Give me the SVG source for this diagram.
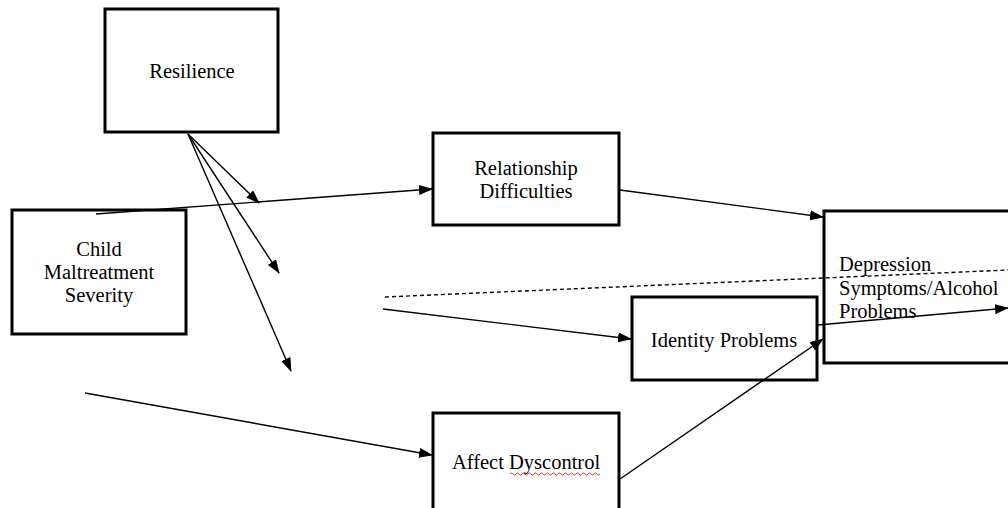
<svg xmlns="http://www.w3.org/2000/svg" width="1008" height="508" viewBox="0 0 1008 508">
<defs>
<marker id="ah" markerWidth="14" markerHeight="10" refX="13" refY="5" orient="auto" markerUnits="userSpaceOnUse">
<path d="M0,0 L14,5 L0,10 Z" fill="#000"/>
</marker>
</defs>
<style>
.box{fill:#fff;stroke:#000;stroke-width:3}
.t{font-family:"Liberation Serif","Times New Roman",serif;font-size:20.5px;fill:#000}
.c{stroke:#000;stroke-width:1.4;fill:none}
.a{marker-end:url(#ah)}
.d{stroke-dasharray:4,3}
</style>
<rect width="1008" height="508" fill="#fff"/>
<g id="resilience">
<rect class="box" x="105" y="9" width="173" height="123"/>
<text class="t" x="192" y="78" text-anchor="middle">Resilience</text>
</g>
<g id="child">
<rect class="box" x="12" y="210" width="174" height="124"/>
<text class="t" x="99" y="256" text-anchor="middle">Child</text>
<text class="t" x="99" y="279" text-anchor="middle">Maltreatment</text>
<text class="t" x="99" y="302" text-anchor="middle">Severity</text>
</g>
<g id="relationship">
<rect class="box" x="433" y="133" width="186" height="92"/>
<text class="t" x="526" y="175" text-anchor="middle">Relationship</text>
<text class="t" x="526" y="198" text-anchor="middle">Difficulties</text>
</g>
<g id="depression">
<rect class="box" x="824" y="211" width="194" height="152"/>
<text class="t" x="839" y="271">Depression</text>
<text class="t" x="839" y="295">Symptoms/Alcohol</text>
<text class="t" x="839" y="318">Problems</text>
</g>
<g id="identity">
<rect class="box" x="632" y="297" width="185" height="83"/>
<text class="t" x="724" y="347" text-anchor="middle">Identity Problems</text>
</g>
<g id="affect">
<rect class="box" x="433" y="413" width="186" height="105"/>
<text class="t" x="526" y="469" text-anchor="middle">Affect Dyscontrol</text>
<path d="M510,474 q1.5,-2 3,0 t3,0 t3,0 t3,0 t3,0 t3,0 t3,0 t3,0 t3,0 t3,0 t3,0 t3,0 t3,0 t3,0 t3,0 t3,0 t3,0 t3,0 t3,0 t3,0 t3,0 t3,0 t3,0 t3,0 t3,0 t3,0 t3,0 t3,0 t3,0 t3,0" stroke="#d00" stroke-width="0.8" fill="none"/>
</g>
<g id="connectors">
<line class="c a" x1="188" y1="134" x2="259" y2="203"/>
<line class="c a" x1="188" y1="134" x2="279" y2="273"/>
<line class="c a" x1="188" y1="134" x2="291" y2="371"/>
<line class="c a" x1="96" y1="214" x2="432" y2="189"/>
<line class="c a" x1="620" y1="190" x2="823" y2="217"/>
<line class="c d" x1="385" y1="297" x2="1008" y2="270"/>
<line class="c a" x1="383" y1="309" x2="631" y2="339"/>
<line class="c a" x1="818" y1="325" x2="1008" y2="308"/>
<line class="c a" x1="85" y1="393" x2="432" y2="455"/>
<line class="c a" x1="620" y1="479" x2="823" y2="339"/>
</g>
</svg>
